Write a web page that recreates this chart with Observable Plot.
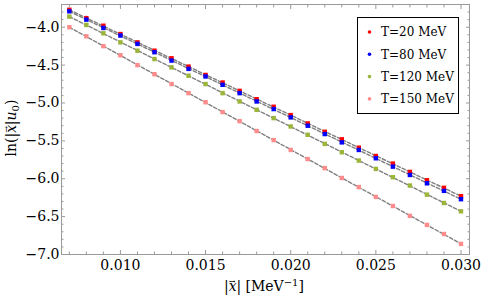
<!DOCTYPE html>
<html><head><meta charset="utf-8">
<script src="https://cdn.jsdelivr.net/npm/d3@7"></script>
<script src="https://cdn.jsdelivr.net/npm/@observablehq/plot@0.6"></script>
<style>body{margin:0;background:#fff}#chart{width:482px;height:304px}</style>
</head><body><div id="chart"></div>
<script>
const xs = [0.007,0.008,0.009,0.010,0.011,0.012,0.013,0.014,0.015,0.016,0.017,0.018,0.019,0.020,0.021,0.022,0.023,0.024,0.025,0.026,0.027,0.028,0.029,0.030];
const t20  = [-3.77,-3.88,-3.98,-4.09,-4.20,-4.31,-4.41,-4.52,-4.63,-4.73,-4.84,-4.95,-5.05,-5.16,-5.27,-5.38,-5.48,-5.59,-5.70,-5.80,-5.91,-6.02,-6.12,-6.23];
const t80  = [-3.79,-3.90,-4.01,-4.11,-4.22,-4.33,-4.44,-4.55,-4.65,-4.76,-4.87,-4.98,-5.08,-5.19,-5.30,-5.41,-5.52,-5.62,-5.73,-5.84,-5.95,-6.06,-6.16,-6.27];
const t120 = [-3.86,-3.97,-4.08,-4.20,-4.31,-4.42,-4.53,-4.64,-4.75,-4.87,-4.98,-5.09,-5.20,-5.31,-5.42,-5.54,-5.65,-5.76,-5.87,-5.98,-6.09,-6.21,-6.32,-6.43];
const t150 = [-4.00,-4.12,-4.25,-4.37,-4.50,-4.62,-4.75,-4.87,-4.99,-5.12,-5.24,-5.37,-5.49,-5.62,-5.74,-5.86,-5.99,-6.11,-6.24,-6.36,-6.49,-6.61,-6.73,-6.86];
const seriesNames = ["T=20 MeV","T=80 MeV","T=120 MeV","T=150 MeV"];
const seriesValues = [t20, t80, t120, t150];
const seriesColors = ["#ff0000","#0000ff","#9ab53a","#ff8c8c"];
const xTicks = [0.010,0.015,0.020,0.025,0.030];
const xMinorTicks = [0.007,0.008,0.009,0.011,0.012,0.013,0.014,0.016,0.017,0.018,0.019,0.021,0.022,0.023,0.024,0.026,0.027,0.028,0.029];
const yTicks = [-7.0,-6.5,-6.0,-5.5,-5.0,-4.5,-4.0];
const yMinorTicks = [-6.9,-6.8,-6.7,-6.6,-6.4,-6.3,-6.2,-6.1,-5.9,-5.8,-5.7,-5.6,-5.4,-5.3,-5.2,-5.1,-4.9,-4.8,-4.7,-4.6,-4.4,-4.3,-4.2,-4.1,-3.9,-3.8];

const rows = [];
seriesNames.forEach((s, i) => xs.forEach((x, j) => rows.push({series: s, x, y: seriesValues[i][j]})));

const axisGray = "#9a9a9a";
const noText = () => "";
const tickAxes = [];
for (const anchor of ["bottom","top"]) {
  tickAxes.push(Plot.axisX({anchor, ticks: xTicks, tickSize: -4, tickFormat: noText, stroke: axisGray, label: null}));
  tickAxes.push(Plot.axisX({anchor, ticks: xMinorTicks, tickSize: -2.5, tickFormat: noText, stroke: axisGray, label: null}));
}
for (const anchor of ["left","right"]) {
  tickAxes.push(Plot.axisY({anchor, ticks: yTicks, tickSize: -4, tickFormat: noText, stroke: axisGray, label: null}));
  tickAxes.push(Plot.axisY({anchor, ticks: yMinorTicks, tickSize: -2.5, tickFormat: noText, stroke: axisGray, label: null}));
}

const plot = Plot.plot({
  width: 482, height: 304,
  marginLeft: 61, marginRight: 13, marginTop: 4, marginBottom: 50,
  style: {fontFamily: "DejaVu Serif", fontSize: "14px", color: "black", background: "white"},
  x: {domain: [0.00654, 0.0305]},
  y: {domain: [-7.0, -3.70]},
  color: {domain: seriesNames, range: seriesColors},
  marks: [
    Plot.linearRegressionY(rows, {x: "x", y: "y", z: "series", stroke: "#808080", ci: 0, strokeWidth: 1.4, strokeDasharray: "3.5,2"}),
    Plot.dot(rows, {x: "x", y: "y", fill: "series", symbol: "square", r: 2.5}),
    Plot.frame({stroke: axisGray}),
    ...tickAxes,
    Plot.axisX({ticks: xTicks, tickSize: 0, tickPadding: 6, tickFormat: d3.format(".3f"), label: null}),
    Plot.axisY({ticks: yTicks, tickSize: 0, tickPadding: 2, tickFormat: d3.format(".1f"), label: null})
  ]
});

const svg = d3.select(plot);
// italic x with a small arrow above it; the next tspan must restore the baseline (dy 7)
function vecX(t) {
  t.append("tspan").attr("font-style", "italic").text("x");
  t.append("tspan").attr("dx", -8).attr("dy", -7).attr("font-size", 8).text("\u2192");
}
// axis titles
const xt = svg.append("text").attr("x", 264).attr("y", 291).attr("text-anchor", "middle")
  .attr("font-family", "DejaVu Serif").attr("font-size", 14).attr("fill", "black");
xt.append("tspan").text("|");
vecX(xt);
xt.append("tspan").attr("dx", 1).attr("dy", 7).text("| [MeV");
xt.append("tspan").attr("dy", -5).attr("font-size", 10).text("\u22121");
xt.append("tspan").attr("dy", 5).text("]");

const yt = svg.append("text").attr("transform", "translate(16,128) rotate(-90)").attr("text-anchor", "middle")
  .attr("font-family", "DejaVu Serif").attr("font-size", 14).attr("fill", "black");
yt.append("tspan").text("ln(|");
vecX(yt);
yt.append("tspan").attr("dx", 1).attr("dy", 7).text("|");
yt.append("tspan").attr("font-style", "italic").text("u");
yt.append("tspan").attr("dy", 3).attr("font-size", 10).text("0");
yt.append("tspan").attr("dy", -3).text(")");

// legend
const lg = svg.append("g");
lg.append("rect").attr("x", 357.5).attr("y", 17.5).attr("width", 101).attr("height", 96)
  .attr("fill", "white").attr("stroke", "black").attr("stroke-width", 1);
seriesNames.forEach((s, i) => {
  const cy = 32 + i * 22.3;
  lg.append("circle").attr("cx", 369.5).attr("cy", cy).attr("r", 1.8).attr("fill", seriesColors[i]);
  lg.append("text").attr("x", 381).attr("y", cy).attr("dy", "0.35em").attr("text-anchor", "start")
    .attr("font-family", "DejaVu Serif").attr("font-size", 12).attr("fill", "black").text(s);
});

document.getElementById("chart").appendChild(plot);
</script>
</body></html>
